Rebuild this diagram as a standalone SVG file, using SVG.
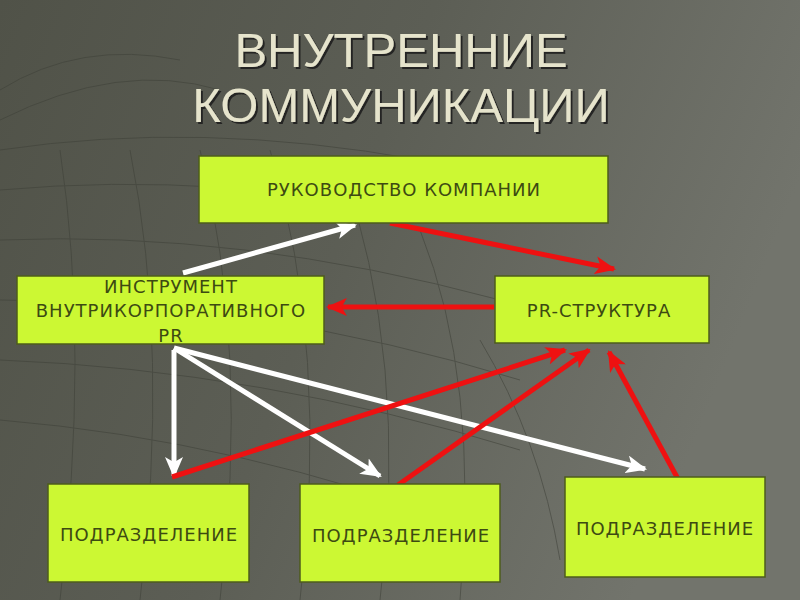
<svg xmlns="http://www.w3.org/2000/svg" width="800" height="600" viewBox="0 0 800 600">
<defs>
<linearGradient id="bg" x1="0" y1="0" x2="1" y2="0.3">
<stop offset="0" stop-color="#505248"/>
<stop offset="0.5" stop-color="#5c5e55"/>
<stop offset="1" stop-color="#72746c"/>
</linearGradient>
<marker id="aw" viewBox="0 0 10 10" refX="9" refY="5" markerWidth="4.2" markerHeight="3.6" orient="auto" preserveAspectRatio="none">
<path d="M0,0 L10,5 L0,10 L2.5,5 z" fill="#ffffff"/>
</marker>
<marker id="ar" viewBox="0 0 10 10" refX="9" refY="5" markerWidth="4.2" markerHeight="3.6" orient="auto" preserveAspectRatio="none">
<path d="M0,0 L10,5 L0,10 L2.5,5 z" fill="#ee1111"/>
</marker>
<filter id="sh" x="-5%" y="-5%" width="110%" height="120%">
<feDropShadow dx="2" dy="2" stdDeviation="0.6" flood-color="#1e1f1a" flood-opacity="0.9"/>
</filter>
</defs>
<style>
.box{fill:#ccf833;stroke:#4d5c1c;stroke-width:1.5}
.lbl{font-family:"DejaVu Sans","Noto Sans",sans-serif;font-size:18px;letter-spacing:1px;fill:#3d4a12;text-anchor:middle}
.title{font-family:"Liberation Sans",Arial,sans-serif;font-size:49px;fill:#e6e4cc;text-anchor:middle;filter:url(#sh)}
.w{stroke:#ffffff;stroke-width:5;fill:none;marker-end:url(#aw)}
.r{stroke:#ee1111;stroke-width:5;fill:none;marker-end:url(#ar)}
.grid{stroke:#3e4038;stroke-width:1;fill:none;opacity:0.55}
</style>
<rect width="800" height="600" fill="url(#bg)"/>
<g id="background-grid" class="grid">
<path d="M0,150 Q200,120 420,160"/>
<path d="M0,190 Q220,170 460,220"/>
<path d="M0,240 Q240,230 500,300"/>
<path d="M0,300 Q260,300 520,380"/>
<path d="M0,360 Q260,370 520,450"/>
<path d="M0,420 Q240,440 480,530"/>
<path d="M60,150 Q90,350 60,600"/>
<path d="M130,150 Q170,350 140,600"/>
<path d="M200,150 Q250,350 220,600"/>
<path d="M270,150 Q330,350 300,600"/>
<path d="M340,160 Q410,360 380,600"/>
<path d="M420,230 Q480,380 460,600"/>
<path d="M480,340 Q540,440 560,560"/>
<path d="M0,120 Q120,60 220,90"/>
<path d="M0,90 Q80,40 180,60"/>
</g>
<g id="title">
<text class="title" x="401" y="67">ВНУТРЕННИЕ</text>
<text class="title" x="401" y="122">КОММУНИКАЦИИ</text>
</g>
<g id="connectors">
<line class="w" x1="183" y1="273" x2="355" y2="225"/>
<line class="w" x1="174" y1="350" x2="174" y2="476"/>
<line class="w" x1="174" y1="348" x2="380" y2="476"/>
<line class="w" x1="174" y1="348" x2="645" y2="469"/>
<line class="r" x1="390" y1="223" x2="614" y2="269"/>
<line class="r" x1="494" y1="307" x2="328" y2="307"/>
<line class="r" x1="172" y1="477" x2="565" y2="350"/>
<line class="r" x1="398" y1="485" x2="589" y2="350"/>
<line class="r" x1="678" y1="479" x2="609" y2="352"/>
</g>
<g id="n-rukovodstvo">
<rect class="box" x="199" y="156" width="409" height="67"/>
<text class="lbl" x="404" y="196">РУКОВОДСТВО КОМПАНИИ</text>
</g>
<g id="n-instrument">
<rect class="box" x="17" y="276" width="307" height="68"/>
<text class="lbl" x="171" y="293">ИНСТРУМЕНТ</text>
<text class="lbl" x="171" y="317">ВНУТРИКОРПОРАТИВНОГО</text>
<text class="lbl" x="171" y="342">PR</text>
</g>
<g id="n-pr">
<rect class="box" x="495" y="276" width="214" height="67"/>
<text class="lbl" x="599" y="317">PR-СТРУКТУРА</text>
</g>
<g id="n-div1">
<rect class="box" x="48" y="484" width="201" height="98"/>
<text class="lbl" x="149" y="541">ПОДРАЗДЕЛЕНИЕ</text>
</g>
<g id="n-div2">
<rect class="box" x="300" y="484" width="200" height="98"/>
<text class="lbl" x="401" y="542">ПОДРАЗДЕЛЕНИЕ</text>
</g>
<g id="n-div3">
<rect class="box" x="565" y="477" width="200" height="100"/>
<text class="lbl" x="665" y="535">ПОДРАЗДЕЛЕНИЕ</text>
</g>
</svg>
